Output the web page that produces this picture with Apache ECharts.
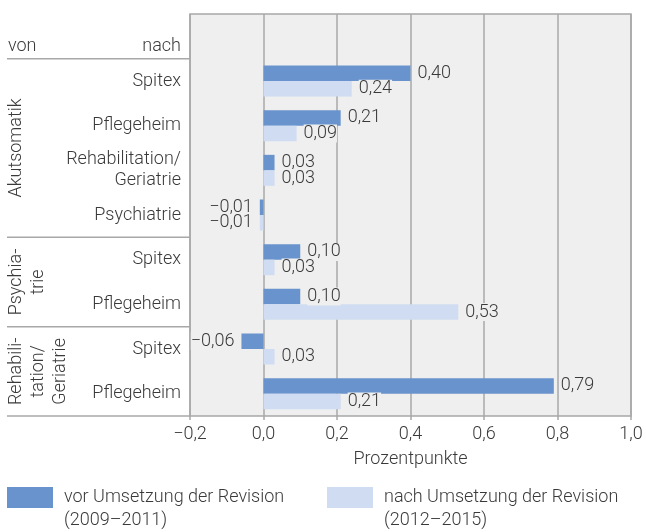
<!DOCTYPE html>
<html>
<head>
<meta charset="utf-8">
<script src="https://cdn.jsdelivr.net/npm/echarts@6/dist/echarts.min.js"></script>
<style>
  html, body { margin: 0; padding: 0; background: #fff; }
  #chart { width: 646px; height: 532px; }
</style>
</head>
<body>
<div id="chart"></div>
<script>
// categories (first row is the empty "von / nach" header row)
const categories = ['', 'Spitex', 'Pflegeheim', 'Rehabilitation/\nGeriatrie', 'Psychiatrie',
  'Spitex', 'Pflegeheim', 'Spitex', 'Pflegeheim']
const groups = ['Akutsomatik', 'Psychia-\ntrie', 'Rehabili-\ntation/\nGeriatrie']
const groupRows = [[1, 4], [5, 6], [7, 8]]
const vorValues = [null, 0.40, 0.21, 0.03, -0.01, 0.10, 0.10, -0.06, 0.79]
const nachValues = [null, 0.24, 0.09, 0.03, -0.01, 0.03, 0.53, 0.03, 0.21]
const seriesNames = ['vor Umsetzung der Revision\n(2009–2011)', 'nach Umsetzung der Revision\n(2012–2015)']

const FONT = 'Roboto'
const FS = 18
const TXT = '#3a3a3a'
const LINE = '#a8a8a8'
const W = 646, H = 532
const G = { left: 190, right: 15, top: 14, bottom: 116 }
const rowH = (H - G.top - G.bottom) / categories.length

function fmt(v, d) {
  return v.toFixed(d).replace('.', ',').replace('-', '\u2212')
}

function barData(values) {
  return values.map(v => v === null ? null : {
    value: v,
    label: { position: v < 0 ? 'left' : 'right' }
  })
}

const chart = echarts.init(document.getElementById('chart'))

const graphics = []
// header row
graphics.push({ type: 'text', x: 8, y: 46,
  style: { text: 'von', font: '300 ' + FS + 'px ' + FONT, fill: TXT, verticalAlign: 'middle' } })
graphics.push({ type: 'text', x: 181, y: 46,
  style: { text: 'nach', font: '300 ' + FS + 'px ' + FONT, fill: TXT, align: 'right', verticalAlign: 'middle' } })
// separator lines on the left
const seps = [1, 5, 7, 9]
seps.forEach(r => {
  const y = G.top + r * rowH
  graphics.push({ type: 'line', shape: { x1: 7, y1: y, x2: G.left, y2: y },
    style: { stroke: LINE, lineWidth: 1.5 } })
})
// group labels, rotated
groups.forEach((g, i) => {
  const [a, b] = groupRows[i]
  const yc = G.top + ((a + b + 1) / 2) * rowH
  const n = g.split('\n').length
  graphics.push({ type: 'text', x: 5 + n * 11, y: yc, rotation: Math.PI / 2,
    style: { text: g, font: '300 ' + FS + 'px ' + FONT, fill: TXT, lineHeight: 22,
      align: 'center', verticalAlign: 'middle' } })
})

const labelCommon = {
  show: true, color: TXT, fontFamily: FONT, fontWeight: 300, fontSize: FS,
  distance: 7, backgroundColor: '#efefef', padding: 0,
  formatter: p => fmt(p.value, 2)
}

chart.setOption({
  animation: false,
  textStyle: { fontFamily: FONT },
  grid: Object.assign({ show: true, backgroundColor: '#efefef', borderColor: LINE, borderWidth: 1.5 }, G),
  legend: [0, 1].map(i => ({
    data: [seriesNames[i]], left: i === 0 ? 2 : 322, top: 458, orient: 'horizontal',
    icon: 'rect', itemWidth: 46, itemHeight: 21, itemGap: 0, selectedMode: false,
    // leading blank line keeps the first text line level with the swatch
    formatter: name => ' \n' + name,
    textStyle: { color: TXT, fontFamily: FONT, fontWeight: 300, fontSize: FS, lineHeight: 23, padding: [0, 0, 0, 6] }
  })),
  xAxis: {
    type: 'value', min: -0.2, max: 1.0, interval: 0.2,
    name: 'Prozentpunkte', nameLocation: 'middle', nameGap: 34,
    nameTextStyle: { color: TXT, fontFamily: FONT, fontWeight: 300, fontSize: FS },
    axisLine: { show: false },
    axisTick: { show: true, length: 4, lineStyle: { color: LINE, width: 1.5 } },
    axisLabel: { color: TXT, fontFamily: FONT, fontWeight: 300, fontSize: FS, margin: 9,
      formatter: v => fmt(v, 1) },
    splitLine: { show: true, lineStyle: { color: LINE, width: 1.5 } }
  },
  yAxis: {
    type: 'category', data: categories, inverse: true,
    axisLine: { show: false }, axisTick: { show: false },
    axisLabel: { color: TXT, fontFamily: FONT, fontWeight: 300, fontSize: FS, margin: 9,
      lineHeight: 21, align: 'right' },
    splitLine: { show: false }
  },
  series: [
    { name: seriesNames[0], type: 'bar', data: barData(vorValues), barWidth: 15.5, barGap: '0%',
      itemStyle: { color: '#6893cc' }, label: labelCommon },
    { name: seriesNames[1], type: 'bar', data: barData(nachValues), barWidth: 15.5, barGap: '0%',
      itemStyle: { color: '#cfdcf1' }, label: labelCommon }
  ],
  graphic: graphics
})
</script>
</body>
</html>
